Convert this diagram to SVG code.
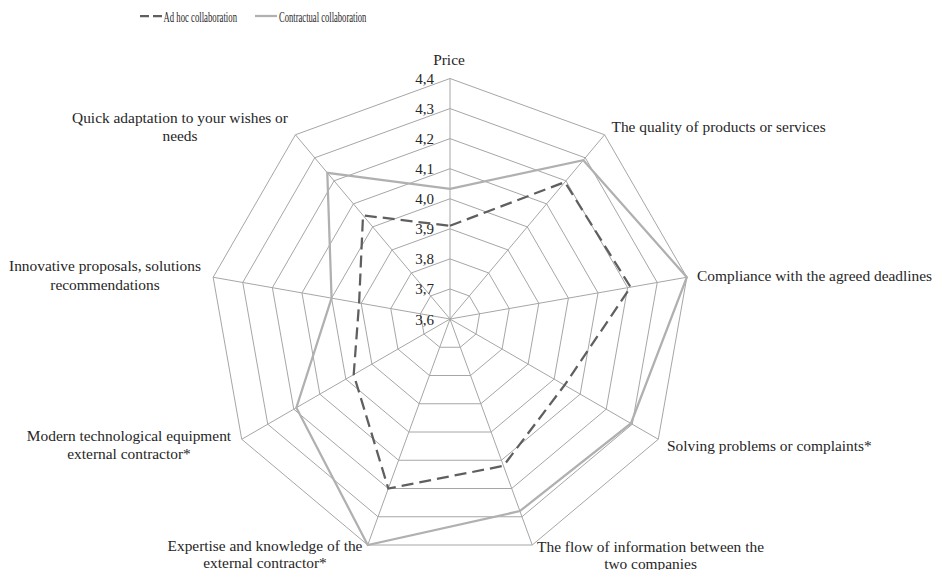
<svg xmlns="http://www.w3.org/2000/svg" width="935" height="570" viewBox="0 0 935 570">
  <style>
    .bg { fill: #ffffff; }
    .ring { fill: none; stroke: #a6a6a6; stroke-width: 1; }
    .spoke { stroke: #a6a6a6; stroke-width: 1; }
    .adhoc { fill: none; stroke: #5f5f5f; stroke-width: 2.25; stroke-dasharray: 12 6; stroke-linejoin: miter; }
    .contract { fill: none; stroke: #b0b0b0; stroke-width: 2.25; stroke-linejoin: miter; }
    text { font-family: 'Liberation Serif', 'Times New Roman', 'DejaVu Serif', 'Noto Serif', serif; fill: #262626; }
    .lbl { font-size: 15.4px; }
    .tick { font-size: 15px; text-anchor: end; }
    .mid { text-anchor: middle; }
    .leg { font-size: 15.5px; }
  </style>

  <rect class="bg" x="0" y="0" width="935" height="570"/>

  <!-- legend (condensed type) -->
  <g id="legend">
    <line class="adhoc" x1="140" y1="16" x2="162" y2="16" style="stroke-dasharray: 9 4"/>
    <text class="leg" transform="translate(163.5 21.5) scale(0.562 1)">Ad hoc collaboration</text>
    <line class="contract" x1="255" y1="16" x2="277" y2="16"/>
    <text class="leg" transform="translate(279 21.5) scale(0.554 1)">Contractual collaboration</text>
  </g>

  <!-- concentric nonagon grid, 3.7 .. 4.4 -->
  <g id="grid">
    <polygon class="ring" points="450,288.94 469.32,295.97 479.60,313.78 476.03,334.03 460.28,347.25 439.72,347.25 423.97,334.03 420.40,313.78 430.68,295.97"/>
    <polygon class="ring" points="450,258.87 488.65,272.94 509.22,308.56 502.07,349.07 470.56,375.50 429.44,375.50 397.93,349.07 390.78,308.56 411.35,272.94"/>
    <polygon class="ring" points="450,228.81 507.97,249.91 538.82,303.34 528.10,364.10 480.84,403.75 419.16,403.75 371.90,364.10 361.18,303.34 392.03,249.91"/>
    <polygon class="ring" points="450,198.75 527.30,226.89 568.42,298.12 554.14,379.13 491.13,432.00 408.87,432.00 345.86,379.13 331.58,298.12 372.70,226.89"/>
    <polygon class="ring" points="450,168.69 546.62,203.86 598.03,292.91 580.17,394.16 501.41,460.25 398.59,460.25 319.83,394.16 301.97,292.91 353.38,203.86"/>
    <polygon class="ring" points="450,138.62 565.95,180.83 627.64,287.69 606.21,409.19 511.69,488.50 388.31,488.50 293.79,409.19 272.36,287.69 334.05,180.83"/>
    <polygon class="ring" points="450,108.56 585.27,157.80 657.24,282.47 632.24,424.22 521.97,516.75 378.03,516.75 267.76,424.22 242.76,282.47 314.73,157.80"/>
    <polygon class="ring" points="450,78.50 604.59,134.78 686.84,277.25 658.27,439.25 532.25,545.00 367.75,545.00 241.73,439.25 213.16,277.25 295.41,134.78"/>
    <line class="spoke" x1="450" y1="319" x2="450" y2="78.50"/>
    <line class="spoke" x1="450" y1="319" x2="604.59" y2="134.78"/>
    <line class="spoke" x1="450" y1="319" x2="686.84" y2="277.25"/>
    <line class="spoke" x1="450" y1="319" x2="658.27" y2="439.25"/>
    <line class="spoke" x1="450" y1="319" x2="532.25" y2="545.00"/>
    <line class="spoke" x1="450" y1="319" x2="367.75" y2="545.00"/>
    <line class="spoke" x1="450" y1="319" x2="241.73" y2="439.25"/>
    <line class="spoke" x1="450" y1="319" x2="213.16" y2="277.25"/>
    <line class="spoke" x1="450" y1="319" x2="295.41" y2="134.78"/>
  </g>

  <!-- scale values on the top axis -->
  <g id="scale">
    <text class="tick" x="434" y="84">4,4</text>
    <text class="tick" x="434" y="114">4,3</text>
    <text class="tick" x="434" y="144">4,2</text>
    <text class="tick" x="434" y="174.2">4,1</text>
    <text class="tick" x="434" y="204.3">4,0</text>
    <text class="tick" x="434" y="234.3">3,9</text>
    <text class="tick" x="434" y="264.4">3,8</text>
    <text class="tick" x="434" y="294.4">3,7</text>
    <text class="tick" x="434" y="324.5">3,6</text>
  </g>

  <!-- data series -->
  <g id="series">
    <polygon id="contractual" class="contract" points="450,188.8 583.32,160.13 686.84,277.25 630.91,423.45 519.90,511.07 367.75,545.00 296.37,407.70 331.58,298.12 327.29,172.77"/>
    <polygon id="adhoc" class="adhoc" points="450,225.8 564.87,182.12 630.61,287.16 564.57,385.15 503.45,465.87 388.30,488.52 353.70,374.60 359.10,302.98 363.03,215.36"/>
  </g>

  <!-- axis labels -->
  <g id="label-price"><text class="lbl mid" x="449" y="65">Price</text></g>
  <g id="label-quality"><text class="lbl" x="611.5" y="131.5">The quality of products or services</text></g>
  <g id="label-deadlines"><text class="lbl" x="697" y="281">Compliance with the agreed deadlines</text></g>
  <g id="label-complaints"><text class="lbl" x="667" y="451">Solving problems or complaints*</text></g>
  <g id="label-information">
    <text class="lbl mid" x="650.5" y="551.5">The flow of information between the</text>
    <text class="lbl mid" x="650.5" y="568.5">two companies</text>
  </g>
  <g id="label-expertise">
    <text class="lbl mid" x="265" y="551">Expertise and knowledge of the</text>
    <text class="lbl mid" x="265" y="568">external contractor*</text>
  </g>
  <g id="label-equipment">
    <text class="lbl mid" x="129" y="441">Modern technological equipment</text>
    <text class="lbl mid" x="129" y="458.5">external contractor*</text>
  </g>
  <g id="label-innovation">
    <text class="lbl mid" x="105" y="271">Innovative proposals, solutions</text>
    <text class="lbl mid" x="105" y="289.5">recommendations</text>
  </g>
  <g id="label-adaptation">
    <text class="lbl mid" x="180" y="122.5">Quick adaptation to your wishes or</text>
    <text class="lbl mid" x="180" y="141">needs</text>
  </g>
</svg>
